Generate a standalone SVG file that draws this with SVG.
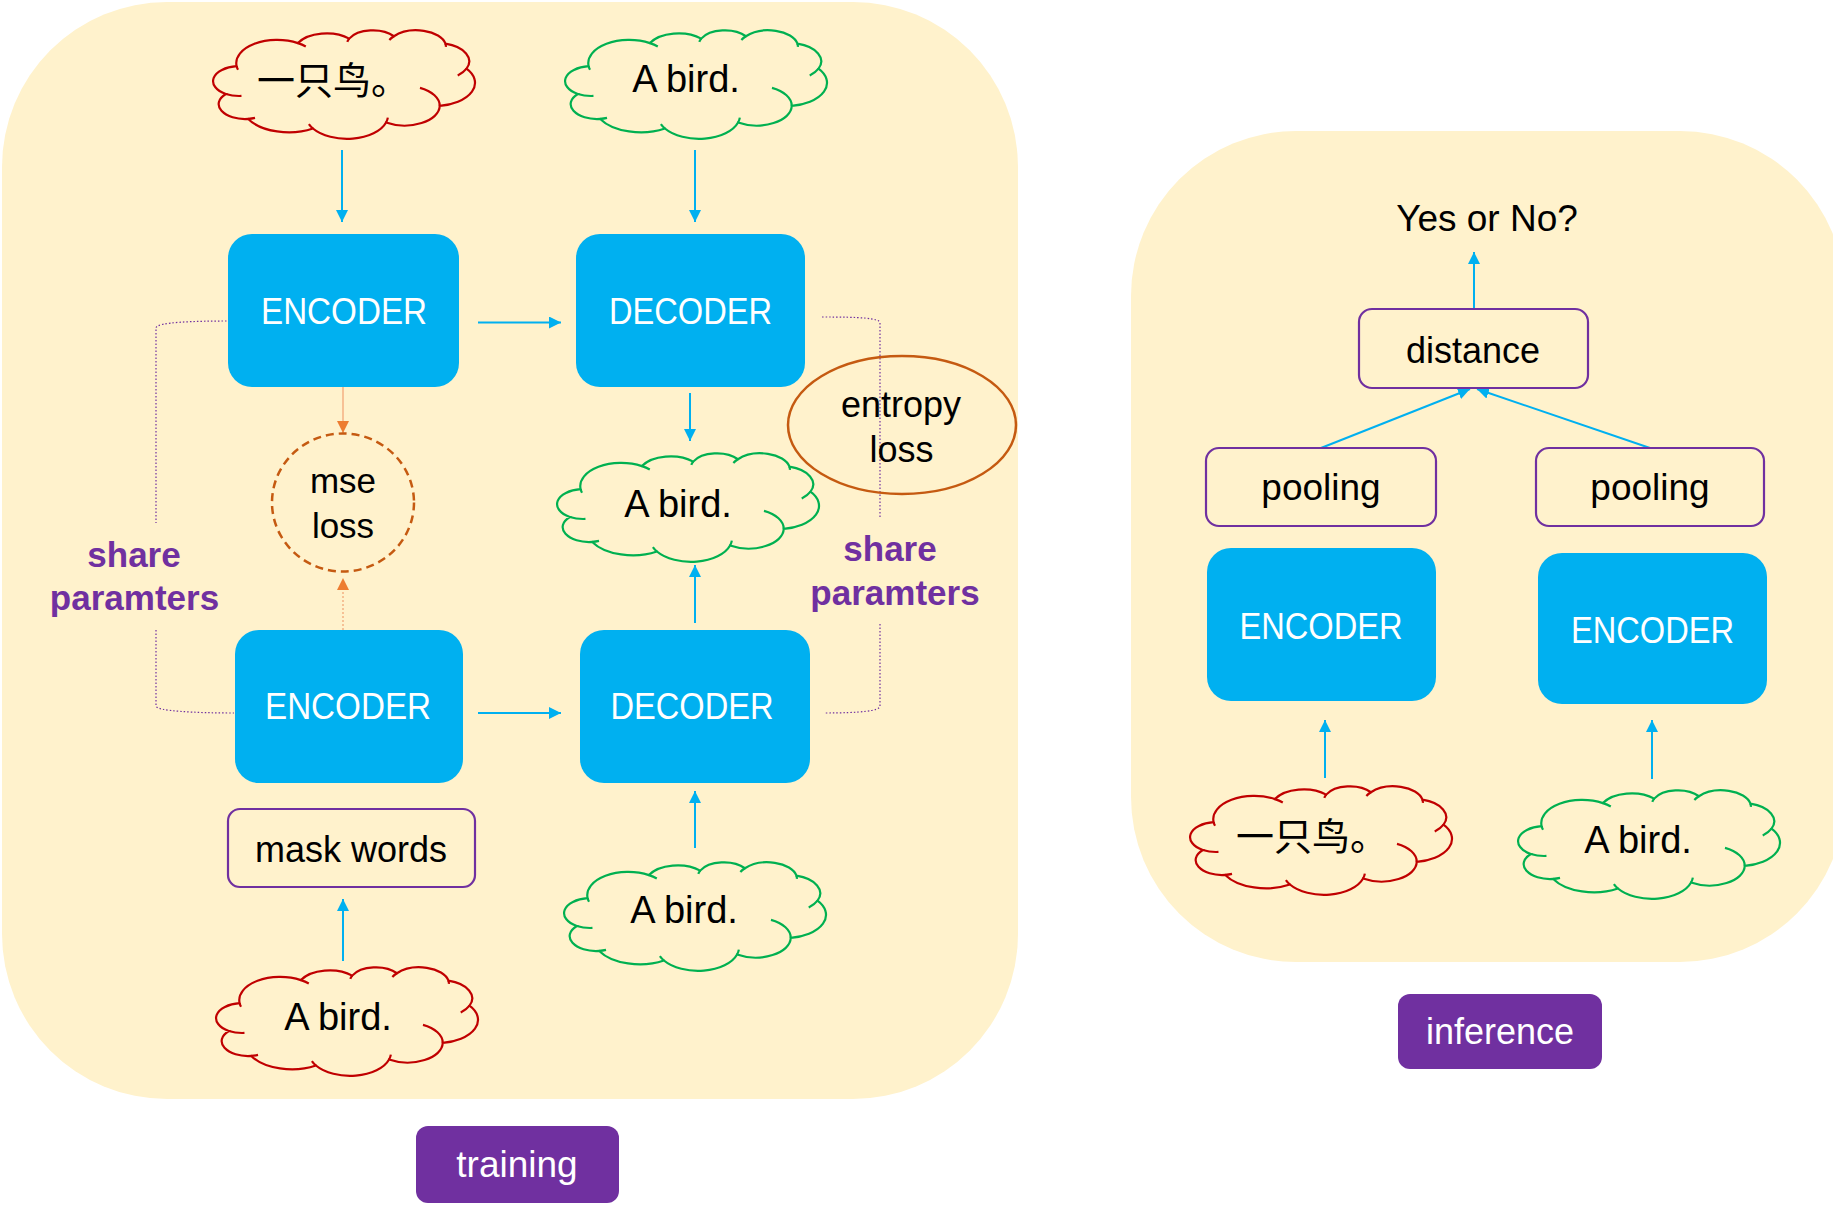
<svg xmlns="http://www.w3.org/2000/svg" xmlns:xlink="http://www.w3.org/1999/xlink" width="1833" height="1210" viewBox="0 0 1833 1210">
<style>
text{font-family:"Liberation Sans",Arial,"Noto Sans CJK SC",sans-serif;}
.lbl{font-size:36px;fill:#000;text-anchor:middle;}
.blk{fill:#00B0F0;}
.blkt{font-size:36px;fill:#fff;text-anchor:middle;}
.pbox{fill:#FFF2CC;stroke:#7030A0;stroke-width:2.2;}
.tag{fill:#7030A0;}
.tagt{font-size:36px;fill:#fff;text-anchor:middle;}
.cjk{font-family:"Noto Sans CJK SC","Liberation Sans",sans-serif;font-size:38px;fill:#000;}
.share{font-size:35px;font-weight:bold;fill:#7030A0;text-anchor:middle;}
.arr{stroke:#00B0F0;stroke-width:2;fill:none;marker-end:url(#ab);}
.oarr{stroke:#F4B183;stroke-width:1.5;fill:none;marker-end:url(#ao);}
.br{stroke:#7030A0;stroke-width:1.2;fill:none;stroke-dasharray:1.5 2;}
.co{fill:#FFF2CC;stroke-width:2.2;}
.ch{fill:none;stroke-width:2.2;}
</style>
<defs>
<marker id="ab" viewBox="0 0 10 10" refX="10" refY="5" markerWidth="12" markerHeight="12" markerUnits="userSpaceOnUse" orient="auto"><path d="M0,0 L10,5 L0,10 z" fill="#00B0F0"/></marker>
<marker id="ao" viewBox="0 0 10 10" refX="10" refY="5" markerWidth="12" markerHeight="12" markerUnits="userSpaceOnUse" orient="auto"><path d="M0,0 L10,5 L0,10 z" fill="#ED7D31"/></marker>
<g id="cloud" transform="scale(0.6065,0.252)">
<path class="co" vector-effect="non-scaling-stroke" d="M39,143.7 A67.53,91.9 0 0 1 140,51.92 A53.33,72.67 0 0 1 224.56,34.3 A43.65,59.45 0 0 1 298.33,24.79 A48.57,65.95 0 0 1 383.24,54.26 A53.33,72.73 0 0 1 417.98,153.54 A67.75,92.2 0 0 1 373.84,300.97 A57.85,78.67 0 0 1 285.35,367.07 A67.52,92.15 0 0 1 164.78,390.9 A77.2,105.43 0 0 1 58.02,352.95 A43.6,59.18 0 0 1 21.12,253.72 A43.45,59.45 0 0 1 39,143.7 Z"/>
<path class="ch" vector-effect="non-scaling-stroke" d="M46.93,261.77 A43.45,59.45 0 0 1 21.12,253.72 M69.28,348.99 A43.6,59.18 0 0 1 58.02,352.95 M164.78,390.9 A67.52,92.15 0 0 1 158.09,373.47 M288.27,347.51 A67.52,92.15 0 0 1 285.35,367.07 M341.29,229.54 A57.85,78.67 0 0 1 373.84,300.97 M417.98,153.54 A53.33,72.73 0 0 1 403.5,180.3 M383.24,54.26 A48.57,65.95 0 0 1 384,66.9 M290.78,39.52 A48.57,65.95 0 0 1 298.33,24.79 M221.41,47.2 A43.65,59.45 0 0 1 224.56,34.3 M140,51.92 A67.53,91.9 0 0 1 153,65.41 M41.27,157.89 A67.53,91.9 0 0 1 39,143.7"/>
</g>
</defs>

<g id="training-panel"><rect x="2" y="2" width="1016" height="1097" rx="165" ry="165" fill="#FFF2CC"/></g>
<g id="inference-panel"><rect x="1131" y="131" width="714" height="831" rx="165" ry="165" fill="#FFF2CC"/></g>

<g id="connectors">
<path class="arr" d="M342,150 L342,222"/>
<path class="arr" d="M695,150 L695,222"/>
<path class="arr" d="M478,322.5 L561,322.5"/>
<path class="arr" d="M690,393 L690,441"/>
<path class="arr" d="M695,623 L695,565"/>
<path class="arr" d="M478,713 L561,713"/>
<path class="arr" d="M695,848 L695,791"/>
<path class="arr" d="M343,961 L343,899"/>
<path class="oarr" d="M343,387 L343,433"/>
<path class="oarr" d="M343,630 L343,578" stroke-dasharray="2 2"/>
<path class="br" d="M230,321 C195,321 156,322 156,328 L156,523"/>
<path class="br" d="M156,630 L156,706 C156,711 195,713 234,713"/>
<path class="br" d="M822,317 C860,317 880,318 880,323 L880,518"/>
<path class="br" d="M880,624 L880,706 C880,711 860,713 824,713"/>
<path class="arr" d="M1474,309 L1474,252"/>
<path class="arr" d="M1321,448 L1470,389"/>
<path class="arr" d="M1650,448 L1477,389"/>
<path class="arr" d="M1325,778 L1325,720"/>
<path class="arr" d="M1652,779 L1652,720"/>
</g>

<g id="cloud-zh-top"><use xlink:href="#cloud" href="#cloud" transform="translate(213,30)" stroke="#C00000"/><text class="cjk" x="257" y="94">一只鸟。</text></g>
<g id="cloud-en-top"><use xlink:href="#cloud" href="#cloud" transform="translate(565,30)" stroke="#00B050"/><text class="lbl" x="686" y="92" style="font-size:38px">A bird.</text></g>
<g id="encoder-top"><rect class="blk" x="228" y="234" width="231" height="153" rx="24"/><text class="blkt" x="344" y="324" textLength="166" lengthAdjust="spacingAndGlyphs">ENCODER</text></g>
<g id="decoder-top"><rect class="blk" x="576" y="234" width="229" height="153" rx="24"/><text class="blkt" x="690.5" y="324" textLength="163" lengthAdjust="spacingAndGlyphs">DECODER</text></g>
<g id="mse-loss"><ellipse cx="343" cy="502.5" rx="71" ry="69" fill="none" stroke="#C55A11" stroke-width="2.5" stroke-dasharray="8 5"/><text class="lbl" style="font-size:35px" x="343" y="493">mse</text><text class="lbl" style="font-size:35px" x="343" y="538">loss</text></g>
<g id="cloud-en-mid"><use xlink:href="#cloud" href="#cloud" transform="translate(557,453)" stroke="#00B050"/><text class="lbl" style="font-size:38px" x="678" y="517">A bird.</text></g>
<g id="entropy-loss"><ellipse cx="902" cy="425" rx="114" ry="69" fill="none" stroke="#C55A11" stroke-width="2.5"/><text class="lbl" x="901" y="417">entropy</text><text class="lbl" x="901.5" y="462">loss</text></g>
<g id="share-left"><text class="share" x="134" y="567">share</text><text class="share" x="134.5" y="610">paramters</text></g>
<g id="share-right"><text class="share" x="890" y="561">share</text><text class="share" x="895" y="605">paramters</text></g>
<g id="encoder-bottom"><rect class="blk" x="235" y="630" width="228" height="153" rx="24"/><text class="blkt" x="348" y="719" textLength="166" lengthAdjust="spacingAndGlyphs">ENCODER</text></g>
<g id="decoder-bottom"><rect class="blk" x="580" y="630" width="230" height="153" rx="24"/><text class="blkt" x="692" y="719" textLength="163" lengthAdjust="spacingAndGlyphs">DECODER</text></g>
<g id="mask-words"><rect class="pbox" x="228" y="809" width="247" height="78" rx="12"/><text class="lbl" x="351" y="862">mask words</text></g>
<g id="cloud-en-bottom-right"><use xlink:href="#cloud" href="#cloud" transform="translate(564,862)" stroke="#00B050"/><text class="lbl" style="font-size:38px" x="684" y="923">A bird.</text></g>
<g id="cloud-en-bottom-left"><use xlink:href="#cloud" href="#cloud" transform="translate(216,967)" stroke="#C00000"/><text class="lbl" style="font-size:38px" x="338" y="1030">A bird.</text></g>
<g id="training-label"><rect class="tag" x="416" y="1126" width="203" height="77" rx="12"/><text class="tagt" style="font-size:37px" x="517" y="1177">training</text></g>

<g id="yes-or-no"><text class="lbl" style="font-size:37px" x="1487" y="231">Yes or No?</text></g>
<g id="distance"><rect class="pbox" x="1359" y="309" width="229" height="79" rx="13"/><text class="lbl" x="1473" y="363">distance</text></g>
<g id="pooling-left"><rect class="pbox" x="1206" y="448" width="230" height="78" rx="13"/><text class="lbl" style="font-size:37px" x="1321" y="500">pooling</text></g>
<g id="pooling-right"><rect class="pbox" x="1536" y="448" width="228" height="78" rx="13"/><text class="lbl" style="font-size:37px" x="1650" y="500">pooling</text></g>
<g id="encoder-inf-left"><rect class="blk" x="1207" y="548" width="229" height="153" rx="24"/><text class="blkt" x="1321" y="639" textLength="163" lengthAdjust="spacingAndGlyphs">ENCODER</text></g>
<g id="encoder-inf-right"><rect class="blk" x="1538" y="553" width="229" height="151" rx="24"/><text class="blkt" x="1652.5" y="643" textLength="163" lengthAdjust="spacingAndGlyphs">ENCODER</text></g>
<g id="cloud-zh-inf"><use xlink:href="#cloud" href="#cloud" transform="translate(1190,786)" stroke="#C00000"/><text class="cjk" x="1236" y="850">一只鸟。</text></g>
<g id="cloud-en-inf"><use xlink:href="#cloud" href="#cloud" transform="translate(1518,790)" stroke="#00B050"/><text class="lbl" style="font-size:38px" x="1638" y="853">A bird.</text></g>
<g id="inference-label"><rect class="tag" x="1398" y="994" width="204" height="75" rx="12"/><text class="tagt" x="1500" y="1044">inference</text></g>
</svg>
